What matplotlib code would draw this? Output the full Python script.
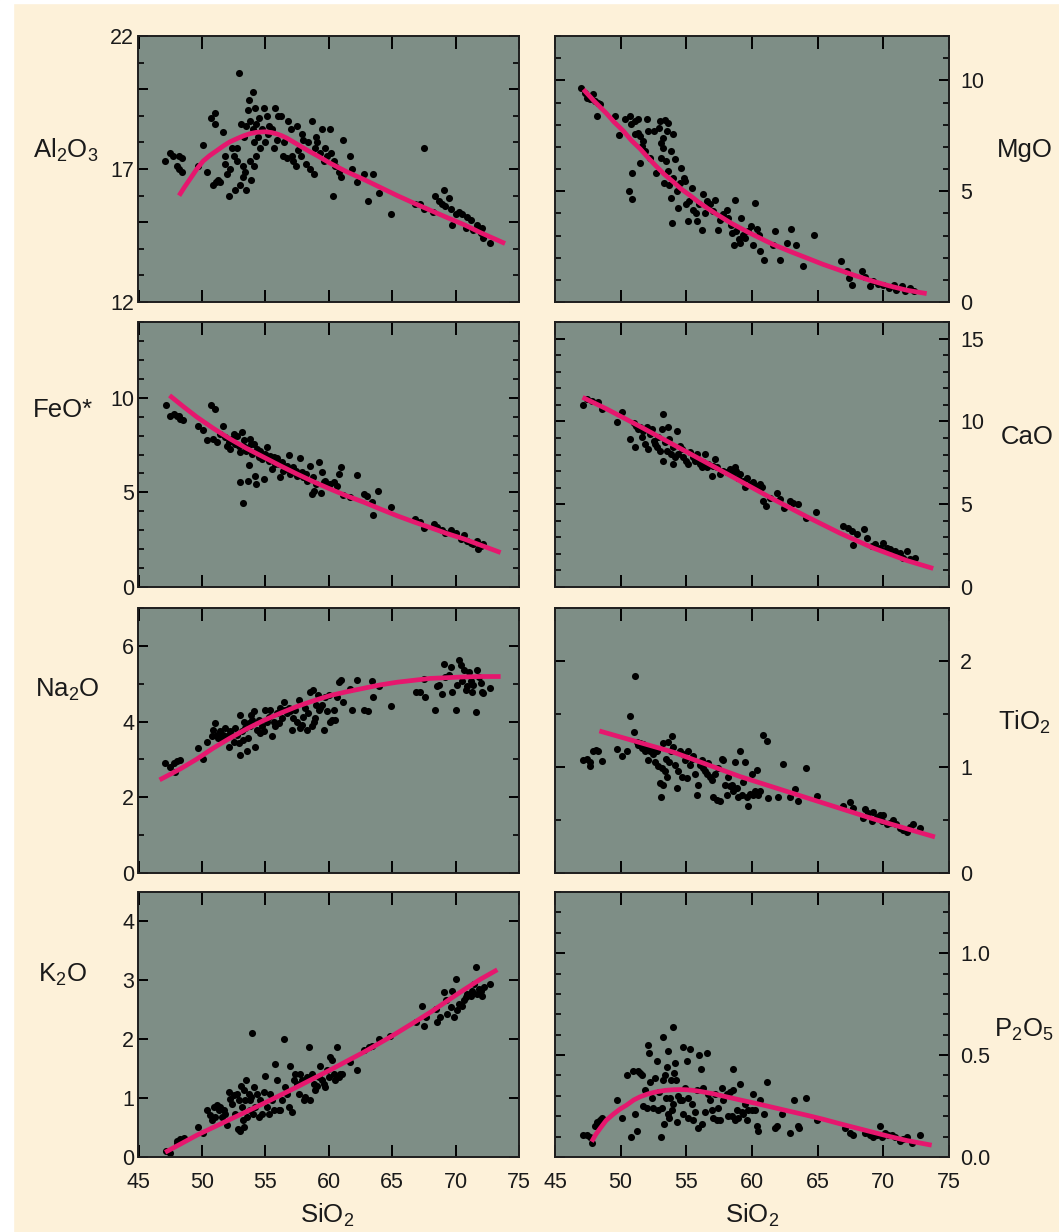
import matplotlib
matplotlib.use("Agg")
import matplotlib.pyplot as plt
from matplotlib.patches import Rectangle
from matplotlib.ticker import FixedLocator, FixedFormatter, MultipleLocator

plt.rcParams['font.family'] = ['Liberation Sans', 'DejaVu Sans']
plt.rcParams['mathtext.fontset'] = 'custom'
plt.rcParams['mathtext.rm'] = 'Liberation Sans'
plt.rcParams['mathtext.default'] = 'regular'

bg = "#fdf1d9"
face = "#7e8e86"
pink = "#e6176e"

# ---- Al2O3 ----
al_x = [47.1, 47.5, 47.7, 48.2, 48.4, 48.0, 48.2, 48.4, 49.7, 50.1, 50.4, 50.7, 51.0, 51.0, 50.9, 51.1, 51.3, 51.4,
        51.7, 51.8, 51.8, 52.0, 52.1, 52.2, 52.4, 52.5, 52.6, 52.8, 52.8, 52.9, 53.0, 53.1, 53.2, 53.2, 53.3, 53.4,
        53.5, 53.5, 53.6, 53.7, 53.8, 53.8, 53.9, 54.0, 54.0, 54.1, 54.1, 54.2, 54.3, 54.3, 54.4, 54.5, 54.6, 54.7,
        54.9, 55.0, 55.1, 55.2, 55.3, 55.5, 55.7, 55.8, 55.9, 56.0, 56.2, 56.4, 56.5, 56.7, 56.8, 57.0, 57.1, 57.2,
        57.4, 57.5, 57.6, 57.8, 57.9, 58.0, 58.2, 58.4, 58.5, 58.7, 58.8, 58.9, 59.0, 59.1, 59.3, 59.5, 59.6, 59.7,
        59.9, 60.1, 60.2, 60.3, 60.4, 60.5, 60.8, 61.0, 61.1, 61.7, 61.8, 62.2, 62.8, 63.1, 63.5, 64.0, 64.9, 66.8,
        67.2, 67.5, 67.5, 68.2, 68.4, 68.7, 68.9, 69.1, 69.2, 69.5, 69.6, 69.7, 70.0, 70.3, 70.5, 70.8, 70.9, 71.2,
        71.4, 71.7, 71.8, 72.0, 72.1, 72.2, 72.7]
al_y = [17.3, 17.6, 17.5, 17.5, 17.4, 17.1, 17.0, 16.9, 17.1, 17.9, 16.9, 18.9, 19.1, 18.7, 16.4, 16.5, 16.6, 16.5,
        18.4, 17.5, 17.2, 16.8, 16.0, 17.0, 17.8, 17.5, 16.2, 17.8, 17.3, 20.6, 16.4, 18.7, 17.1, 16.7, 18.2, 16.9,
        16.2, 18.6, 19.2, 19.6, 18.8, 17.3, 16.6, 18.5, 19.9, 18.0, 17.1, 19.3, 18.7, 17.5, 18.2, 18.9, 17.8, 18.5,
        19.3, 18.0, 19.0, 18.3, 18.6, 18.5, 17.8, 19.3, 18.1, 19.0, 19.0, 17.5, 18.0, 17.4, 18.8, 18.5, 17.5, 17.3,
        17.1, 18.6, 17.7, 17.5, 18.3, 18.1, 17.2, 18.0, 17.0, 18.8, 16.8, 17.8, 18.2, 18.0, 17.6, 18.5, 17.3, 17.8,
        17.5, 18.5, 17.6, 16.0, 17.3, 17.1, 16.9, 16.7, 18.1, 17.5, 17.0, 16.5, 16.8, 15.8, 16.8, 16.1, 15.3, 15.7,
        15.7, 17.8, 15.5, 15.4, 16.0, 15.8, 15.7, 16.2, 15.6, 15.9, 15.5, 14.9, 15.3, 15.4, 15.3, 14.8, 15.2, 15.1,
        14.7, 14.9, 14.8, 14.6, 14.8, 14.4, 14.2]
al_fit_x = [48.2, 48.6, 49.1, 49.6, 50.1, 50.6, 51.2, 51.7, 52.2, 52.8, 53.3, 53.8, 54.3, 55.0, 55.5, 55.9, 56.3,
            56.7, 57.2, 57.8, 58.4, 59.1, 60.1, 61.4, 62.8, 64.1, 65.4, 66.7, 68.0, 69.3, 70.7, 72.0, 73.9]
al_fit_y = [16.0, 16.3, 16.65, 17.0, 17.3, 17.5, 17.7, 17.87, 18.02, 18.15, 18.25, 18.33, 18.38, 18.4, 18.37, 18.32,
            18.25, 18.16, 18.02, 17.85, 17.68, 17.5, 17.22, 16.9, 16.6, 16.3, 16.0, 15.72, 15.45, 15.18, 14.9, 14.6,
            14.2]

# ---- MgO ----
mg_x = [47.0, 47.3, 47.4, 47.7, 47.9, 48.05, 48.3, 48.4, 48.2, 49.6, 49.9, 50.3, 50.7, 50.8, 51.1, 51.1, 51.3, 51.3,
        51.5, 51.6, 51.7, 51.85, 52.0, 52.1, 51.5, 50.9, 50.6, 50.9, 52.2, 52.5, 52.7, 52.9, 53.0, 53.05, 53.1, 53.2,
        53.25, 53.3, 53.4, 53.45, 53.5, 53.6, 53.6, 53.7, 53.8, 53.8, 53.9, 54.0, 54.0, 54.1, 54.3, 54.4, 54.5, 54.6,
        54.8, 54.9, 55.0, 55.1, 55.2, 55.4, 55.5, 55.7, 55.8, 56.0, 56.2, 56.3, 56.4, 56.6, 56.8, 57.05, 57.2, 57.4,
        57.6, 57.8, 58.1, 58.2, 58.4, 58.5, 58.6, 58.7, 58.8, 59.0, 59.1, 59.2, 59.3, 59.5, 59.7, 59.9, 60.1, 60.2,
        60.4, 60.5, 60.6, 60.9, 61.6, 61.75, 62.1, 62.7, 63.0, 63.35, 63.9, 64.7, 66.8, 67.2, 67.4, 67.6, 68.35, 68.6,
        69.0, 69.2, 69.6, 70.0, 70.4, 70.8, 71.0, 71.4, 71.65, 72.0, 72.3]
mg_y = [9.67, 9.44, 9.22, 9.14, 9.37, 9.07, 8.99, 8.92, 8.39, 8.39, 7.52, 8.24, 8.39, 8.01, 8.16, 7.56, 8.24, 7.64,
        7.48, 7.03, 7.26, 6.81, 8.24, 7.71, 6.28, 5.83, 5.03, 4.65, 6.51, 7.71, 5.83, 7.86, 8.16, 7.18, 6.51, 7.41,
        6.96, 5.38, 8.19, 6.36, 7.71, 8.09, 5.90, 5.30, 6.81, 4.70, 3.57, 7.56, 5.60, 6.43, 5.00, 4.25, 5.38, 6.05,
        5.60, 5.45, 4.40, 3.64, 4.55, 5.15, 4.17, 4.02, 3.64, 4.40, 3.27, 4.85, 4.02, 4.55, 4.40, 4.10, 4.62, 3.27,
        3.72, 3.95, 4.17, 3.80, 3.49, 3.12, 2.59, 4.62, 3.19, 2.82, 2.67, 3.80, 3.01, 2.89, 3.19, 3.42, 2.59, 4.47,
        3.30, 3.04, 2.29, 1.91, 2.59, 3.19, 1.91, 2.64, 3.30, 2.59, 1.64, 3.01, 1.84, 1.39, 1.08, 0.78, 1.42, 1.11,
        0.71, 0.93, 0.81, 0.78, 0.63, 0.78, 0.56, 0.71, 0.48, 0.63, 0.51]
mg_fit_x = [47.16, 48.0, 48.9, 49.5, 50.2, 50.8, 51.5, 52.1, 52.7, 53.3, 54.0, 54.6, 55.3, 55.9, 56.55, 57.2, 57.8,
            58.4, 59.1, 59.7, 60.35, 61.0, 61.6, 62.9, 64.2, 65.4, 66.7, 67.97, 69.2, 70.5, 71.8, 73.3]
mg_fit_y = [9.59, 9.05, 8.52, 8.12, 7.72, 7.3, 6.9, 6.5, 6.13, 5.77, 5.42, 5.1, 4.8, 4.52, 4.25, 4.0, 3.78, 3.56, 3.34,
            3.15, 2.96, 2.77, 2.6, 2.28, 1.98, 1.7, 1.43, 1.17, 0.94, 0.72, 0.53, 0.38]

# ---- FeO* ----
fe_x = [47.2, 47.5, 47.8, 48.0, 48.3, 48.5, 48.2, 49.66, 50.1, 50.4, 50.7, 51.05, 50.9, 51.2, 51.4, 51.66, 51.84,
        51.97, 52.1, 52.2, 52.37, 52.5, 52.6, 52.76, 52.9, 52.97, 53.0, 53.16, 53.23, 53.3, 53.42, 53.5, 53.6, 53.68,
        53.76, 53.87, 53.95, 54.08, 54.2, 54.29, 54.34, 54.47, 54.6, 54.7, 54.87, 55.0, 55.13, 55.26, 55.39, 55.5,
        55.66, 55.79, 55.9, 56.05, 56.18, 56.3, 56.4, 56.6, 56.7, 56.84, 56.97, 57.2, 57.4, 57.5, 57.7, 57.9, 58.0,
        58.2, 58.3, 58.55, 58.7, 58.76, 58.87, 59.0, 59.2, 59.4, 59.5, 59.6, 59.7, 59.9, 60.1, 60.4, 60.66, 60.8,
        60.97, 61.1, 61.7, 62.2, 62.8, 63.0, 63.4, 63.5, 63.9, 64.9, 66.8, 67.2, 67.5, 68.3, 68.5, 68.9, 69.2, 69.6,
        70.0, 70.4, 70.7, 70.9, 71.2, 71.4, 71.7, 72.0, 72.2, 71.8]
fe_y = [9.63, 9.06, 9.12, 9.01, 8.89, 8.80, 9.06, 8.53, 8.27, 7.77, 9.59, 9.38, 7.83, 7.65, 8.09, 8.53, 7.92, 7.47,
        7.65, 7.30, 7.83, 8.09, 7.56, 8.0, 7.47, 5.53, 7.12, 8.18, 4.42, 7.74, 7.39, 7.21, 5.62, 6.47, 7.83, 7.56,
        7.03, 7.56, 5.88, 5.44, 7.30, 6.86, 7.21, 6.77, 5.71, 7.03, 7.39, 6.68, 6.94, 6.24, 6.86, 6.50, 6.82, 6.50,
        5.80, 6.59, 6.15, 6.24, 6.41, 7.0, 5.97, 6.33, 6.11, 5.88, 6.80, 6.06, 5.80, 5.97, 5.62, 6.41, 4.91, 5.80,
        5.09, 5.44, 6.59, 4.95, 6.06, 5.53, 5.62, 5.44, 5.44, 5.53, 5.35, 5.97, 6.36, 4.88, 4.73, 5.92, 4.91, 4.82,
        4.47, 3.80, 5.09, 4.24, 3.59, 3.46, 3.14, 3.32, 3.18, 3.0, 2.83, 3.0, 2.83, 2.53, 2.76, 2.44, 2.35, 2.26,
        2.44, 2.17, 2.26, 2.0]
fe_fit_x = [47.45, 48.5, 49.6, 50.9, 52.2, 53.5, 54.87, 56.2, 57.5, 58.8, 60.1, 61.4, 62.8, 64.1, 65.4, 66.7, 68.0,
            69.3, 70.7, 72.1, 73.55]
fe_fit_y = [10.12, 9.55, 8.98, 8.38, 7.83, 7.33, 6.86, 6.4, 5.97, 5.56, 5.18, 4.82, 4.47, 4.11, 3.76, 3.44, 3.14,
            2.83, 2.53, 2.18, 1.82]

# ---- CaO ----
ca_x = [47.16, 47.4, 47.8, 48.3, 48.55, 49.7, 50.1, 50.7, 51.0, 51.1, 51.2, 51.35, 51.5, 51.6, 51.7, 51.85, 52.0,
        52.1, 52.2, 52.36, 52.5, 52.6, 52.74, 52.87, 53.0, 53.12, 53.2, 53.25, 53.38, 53.5, 53.63, 53.7, 53.8, 54.0,
        54.0, 54.14, 54.3, 54.39, 54.5, 54.65, 54.77, 55.0, 55.15, 55.28, 55.5, 55.66, 55.79, 56.04, 56.17, 56.3,
        56.42, 56.55, 56.67, 56.93, 57.05, 57.18, 57.3, 57.56, 57.8, 58.07, 58.3, 58.58, 58.7, 58.8, 58.96, 59.09,
        59.34, 59.47, 59.6, 59.85, 60.1, 60.36, 60.6, 60.74, 60.86, 61.1, 61.37, 61.93, 62.13, 62.4, 62.9, 63.15,
        63.53, 64.1, 64.9, 66.95, 67.3, 67.59, 67.7, 67.97, 68.5, 68.73, 69.1, 69.4, 69.75, 70.0, 70.25, 70.5, 70.89,
        71.27, 71.5, 71.78, 72.03, 72.41]
ca_y = [10.99, 11.35, 11.25, 11.15, 10.75, 9.98, 10.54, 8.93, 9.88, 8.43, 9.74, 9.54, 9.64, 9.03, 9.44, 8.63, 9.64,
        8.33, 9.23, 9.54, 8.83, 8.63, 8.43, 9.03, 8.23, 9.54, 7.62, 10.44, 8.73, 8.23, 9.64, 8.93, 8.02, 7.42, 8.43,
        7.82, 9.44, 8.02, 8.53, 8.33, 7.82, 7.62, 7.42, 8.13, 7.82, 7.62, 8.02, 7.42, 7.22, 7.52, 8.02, 7.22, 7.42,
        6.71, 7.32, 7.72, 7.22, 6.81, 7.02, 6.92, 7.12, 6.81, 7.22, 7.02, 6.61, 6.81, 6.41, 6.01, 6.61, 6.21, 6.31,
        6.11, 6.21, 6.01, 5.20, 4.90, 5.40, 5.65, 5.30, 4.80, 5.20, 5.10, 5.0, 4.15, 4.50, 3.69, 3.59, 3.39, 2.54,
        3.19, 3.49, 2.98, 2.48, 2.58, 2.38, 2.68, 2.38, 2.28, 2.18, 2.08, 1.77, 2.18, 1.67, 1.77]
ca_fit_x = [47.1, 48.93, 51.5, 54.0, 56.55, 59.09, 61.62, 64.16, 66.7, 69.24, 71.78, 73.8]
ca_fit_y = [11.45, 10.75, 9.68, 8.6, 7.5, 6.4, 5.3, 4.25, 3.25, 2.35, 1.6, 1.12]

# ---- Na2O ----
na_x = [47.1, 47.5, 47.76, 48.0, 48.3, 47.9, 49.66, 50.1, 50.4, 50.8, 50.9, 51.05, 51.2, 51.3, 51.4, 51.6, 51.7,
        51.84, 51.97, 52.1, 52.2, 52.37, 52.5, 52.6, 52.76, 52.9, 52.97, 53.0, 53.16, 53.23, 53.3, 53.42, 53.55, 53.6,
        53.68, 53.8, 53.87, 53.95, 54.08, 54.2, 54.34, 54.47, 54.6, 54.7, 54.87, 55.0, 55.13, 55.26, 55.39, 55.5,
        55.66, 55.79, 55.9, 56.05, 56.18, 56.3, 56.45, 56.58, 56.7, 56.84, 56.97, 57.1, 57.2, 57.37, 57.5, 57.63,
        57.76, 57.89, 58.0, 58.16, 58.29, 58.4, 58.55, 58.68, 58.76, 58.87, 58.95, 59.0, 59.13, 59.2, 59.34, 59.47,
        59.6, 59.7, 59.87, 60.0, 60.13, 60.26, 60.39, 60.5, 60.66, 60.8, 60.97, 61.1, 61.7, 61.84, 62.2, 62.76, 63.1,
        63.4, 63.5, 63.97, 64.9, 66.84, 67.2, 67.5, 67.6, 68.4, 68.5, 68.7, 68.9, 69.1, 69.2, 69.47, 69.6, 69.7,
        70.0, 70.13, 70.26, 70.39, 70.5, 70.66, 70.8, 70.92, 71.05, 71.18, 71.3, 71.4, 71.58, 71.7, 71.84, 71.97,
        72.1, 72.2, 72.7]
na_y = [2.90, 2.81, 2.90, 2.96, 2.99, 2.68, 3.30, 3.02, 3.47, 3.61, 3.78, 3.96, 3.65, 3.56, 3.74, 3.52, 3.65, 3.83,
        3.61, 3.34, 3.74, 3.65, 3.47, 3.83, 3.65, 3.43, 3.12, 4.18, 3.74, 3.52, 4.0, 3.83, 3.21, 3.56, 3.96, 3.87,
        4.18, 4.05, 4.27, 3.34, 3.78, 4.05, 3.69, 3.87, 3.74, 4.31, 4.0, 4.13, 4.31, 3.61, 4.0, 3.87, 4.22, 3.96,
        4.35, 4.09, 4.53, 4.31, 4.22, 4.35, 4.27, 3.78, 4.09, 4.31, 4.0, 4.57, 3.83, 3.91, 4.13, 4.35, 3.78, 4.22,
        4.79, 3.87, 4.84, 4.0, 4.09, 4.44, 4.71, 4.31, 4.35, 4.44, 3.78, 4.66, 4.27, 4.71, 4.0, 4.05, 4.31, 4.05,
        4.66, 5.04, 5.10, 4.53, 4.85, 4.31, 5.10, 4.31, 4.27, 5.06, 4.66, 4.95, 4.42, 4.79, 4.79, 5.12, 4.66, 4.31,
        4.93, 4.97, 4.72, 5.51, 5.19, 5.23, 5.45, 4.79, 4.31, 4.97, 5.63, 5.50, 5.06, 5.37, 4.84, 4.93, 5.32, 5.06,
        4.79, 4.97, 4.25, 5.37, 5.19, 5.01, 4.79, 4.75, 4.88]
na_fit_x = [46.66, 48.3, 49.6, 50.9, 52.2, 53.55, 54.87, 56.18, 57.5, 58.8, 60.13, 61.45, 62.76, 64.08, 65.4, 66.7,
            68.0, 69.34, 70.66, 71.97, 73.55]
na_fit_y = [2.46, 2.75, 3.01, 3.30, 3.56, 3.81, 4.03, 4.22, 4.40, 4.55, 4.69, 4.79, 4.88, 4.97, 5.04, 5.09, 5.14,
            5.16, 5.18, 5.19, 5.19]

# ---- TiO2 ----
ti_x = [47.16, 47.41, 47.67, 47.92, 48.12, 48.3, 48.55, 47.67, 49.75, 50.08, 50.5, 50.71, 51.0, 51.09, 51.22, 51.35,
        51.47, 51.6, 51.73, 51.85, 51.98, 52.1, 52.23, 52.36, 52.49, 52.61, 52.74, 52.87, 52.99, 53.05, 53.12, 53.2,
        53.25, 53.38, 53.45, 53.5, 53.63, 53.7, 53.81, 53.88, 54.01, 54.14, 54.26, 54.39, 54.52, 54.64, 54.77, 54.9,
        55.03, 55.15, 55.28, 55.41, 55.53, 55.66, 55.79, 55.91, 56.04, 56.17, 56.29, 56.42, 56.55, 56.68, 56.8,
        56.93, 57.06, 57.18, 57.31, 57.44, 57.56, 57.69, 57.82, 57.94, 58.07, 58.2, 58.33, 58.45, 58.58, 58.71,
        58.83, 58.96, 59.09, 59.21, 59.34, 59.47, 59.59, 59.72, 59.85, 59.97, 60.1, 60.23, 60.36, 60.48, 60.61,
        60.86, 61.12, 61.24, 62.0, 62.33, 62.89, 63.27, 63.53, 64.11, 64.92, 66.95, 67.46, 67.72, 68.48, 68.6,
        68.86, 69.11, 69.24, 69.49, 69.75, 69.87, 70.0, 70.25, 70.51, 70.76, 71.0, 71.27, 71.52, 71.78, 72.03,
        72.28, 72.79]
ti_y = [1.07, 1.08, 1.01, 1.15, 1.16, 1.15, 1.06, 1.05, 1.17, 1.10, 1.15, 1.48, 1.33, 1.86, 1.24, 1.21, 1.23, 1.18,
        1.22, 1.15, 1.19, 1.07, 1.15, 1.18, 1.12, 1.05, 1.15, 1.01, 0.85, 0.72, 0.99, 0.83, 1.23, 0.96, 1.08, 0.91,
        1.24, 1.05, 1.15, 1.29, 1.19, 1.02, 0.80, 0.96, 1.15, 0.91, 1.12, 1.07, 0.90, 1.15, 1.02, 1.08, 1.10, 0.93,
        0.74, 0.83, 1.02, 1.07, 0.99, 0.96, 0.93, 1.04, 0.91, 0.88, 0.72, 0.93, 0.69, 0.99, 0.68, 1.08, 1.07, 0.83,
        0.74, 0.91, 0.82, 0.83, 0.77, 1.05, 0.80, 0.72, 1.15, 0.74, 0.86, 1.05, 0.72, 0.63, 0.75, 0.93, 0.74, 0.77,
        0.97, 0.74, 0.77, 1.30, 1.25, 0.71, 0.72, 1.03, 0.72, 0.79, 0.68, 0.99, 0.73, 0.63, 0.67, 0.61, 0.52, 0.60,
        0.57, 0.49, 0.58, 0.53, 0.55, 0.49, 0.55, 0.46, 0.47, 0.50, 0.46, 0.42, 0.41, 0.39, 0.43, 0.46, 0.42]
ti_fit_x = [48.38, 54.01, 59.09, 64.16, 69.24, 73.93]
ti_fit_y = [1.34, 1.14, 0.91, 0.71, 0.51, 0.34]

# ---- K2O ----
k_x = [47.18, 47.5, 48.0, 48.29, 48.55, 48.0, 49.66, 50.08, 50.39, 50.66, 50.79, 50.92, 51.05, 51.18, 51.31, 51.45,
       51.58, 51.71, 51.84, 51.97, 52.1, 52.23, 52.37, 52.5, 52.63, 52.76, 52.81, 52.89, 53.02, 53.08, 53.16, 53.23,
       53.29, 53.34, 53.42, 53.5, 53.55, 53.68, 53.76, 53.81, 53.87, 53.95, 54.02, 54.08, 54.21, 54.34, 54.47, 54.6,
       54.73, 54.87, 55.0, 55.13, 55.26, 55.39, 55.52, 55.66, 55.79, 55.92, 56.05, 56.18, 56.31, 56.45, 56.58, 56.71,
       56.84, 56.97, 57.1, 57.23, 57.37, 57.5, 57.63, 57.76, 57.89, 58.02, 58.16, 58.29, 58.42, 58.55, 58.68, 58.81,
       58.95, 59.08, 59.21, 59.34, 59.47, 59.6, 59.73, 59.87, 60.0, 60.13, 60.26, 60.39, 60.52, 60.66, 60.79, 60.92,
       61.05, 61.71, 62.23, 62.76, 63.16, 63.42, 63.95, 64.81, 66.84, 67.37, 67.5, 67.63, 68.42, 68.55, 68.81, 69.08,
       69.21, 69.34, 69.6, 69.73, 69.87, 70.0, 70.13, 70.26, 70.52, 70.66, 70.79, 70.92, 71.18, 71.31, 71.45, 71.58,
       71.71, 71.84, 71.97, 72.1, 72.23, 72.71]
k_y = [0.11, 0.06, 0.28, 0.31, 0.33, 0.23, 0.51, 0.40, 0.79, 0.71, 0.62, 0.85, 0.68, 0.88, 0.79, 0.85, 0.68, 0.79,
       0.73, 0.54, 1.10, 0.99, 0.90, 1.05, 0.73, 1.07, 0.48, 0.96, 0.45, 1.21, 0.85, 0.62, 1.13, 0.51, 0.96, 1.30,
       0.68, 1.07, 0.79, 0.96, 1.02, 2.10, 0.73, 1.19, 0.85, 1.07, 0.68, 0.96, 0.73, 1.10, 1.38, 0.85, 0.73, 1.07,
       0.96, 0.79, 1.58, 1.30, 0.79, 0.79, 0.96, 2.01, 1.19, 1.07, 0.85, 1.55, 0.76, 1.30, 1.41, 1.24, 1.07, 1.41,
       1.30, 0.96, 1.02, 1.36, 1.86, 0.96, 1.41, 1.24, 1.13, 1.21, 1.36, 1.55, 1.30, 1.24, 1.19, 1.47, 1.36, 1.69,
       1.64, 1.41, 1.30, 1.86, 1.36, 1.41, 1.41, 1.61, 1.47, 1.81, 1.86, 1.89, 2.01, 2.06, 2.29, 2.57, 2.23, 2.37,
       2.51, 2.29, 2.37, 2.80, 2.66, 2.43, 2.54, 2.82, 2.37, 3.02, 2.49, 2.60, 2.57, 2.66, 2.71, 2.77, 2.74, 2.82,
       2.94, 3.23, 2.77, 2.86, 2.82, 2.74, 2.88, 2.93]
k_fit_x = [47.1, 49.6, 52.23, 54.87, 57.5, 60.13, 62.76, 64.87, 66.84, 68.1, 69.34, 70.66, 71.97, 73.29]
k_fit_y = [0.08, 0.37, 0.64, 0.91, 1.19, 1.48, 1.78, 2.04, 2.3, 2.47, 2.65, 2.84, 3.02, 3.18]

# ---- P2O5 ----
p_x = [47.16, 47.41, 47.67, 47.79, 48.05, 48.17, 48.43, 48.55, 48.3, 49.75, 50.08, 50.51, 50.76, 50.96, 51.09, 51.22,
       51.35, 51.47, 51.6, 51.73, 51.85, 51.98, 52.11, 52.18, 52.23, 52.36, 52.49, 52.61, 52.74, 52.87, 52.94, 53.05,
       53.12, 53.2, 53.25, 53.3, 53.38, 53.45, 53.5, 53.58, 53.63, 53.71, 53.76, 53.83, 53.88, 53.96, 54.01, 54.09,
       54.14, 54.21, 54.26, 54.39, 54.52, 54.64, 54.72, 54.77, 54.9, 55.03, 55.1, 55.15, 55.28, 55.41, 55.53, 55.66,
       55.79, 55.91, 55.99, 56.09, 56.17, 56.29, 56.42, 56.55, 56.68, 56.8, 56.93, 57.06, 57.18, 57.31, 57.44, 57.56,
       57.69, 57.82, 58.07, 58.2, 58.33, 58.45, 58.53, 58.58, 58.71, 58.83, 58.96, 59.09, 59.21, 59.34, 59.47, 59.59,
       59.72, 59.97, 60.1, 60.23, 60.36, 60.48, 60.61, 60.91, 61.12, 61.75, 61.88, 62.26, 62.89, 63.2, 63.53, 63.6,
       64.09, 64.92, 67.08, 67.46, 67.72, 68.6, 68.99, 69.24, 69.49, 69.75, 69.87, 70.13, 70.38, 70.63, 70.89, 71.27,
       71.52, 71.78, 72.16, 72.79]
p_y = [0.11, 0.11, 0.10, 0.07, 0.15, 0.17, 0.18, 0.19, 0.16, 0.28, 0.19, 0.40, 0.10, 0.42, 0.21, 0.13, 0.42, 0.41,
       0.40, 0.25, 0.33, 0.24, 0.55, 0.51, 0.37, 0.29, 0.24, 0.39, 0.47, 0.23, 0.32, 0.10, 0.24, 0.59, 0.38, 0.16,
       0.40, 0.29, 0.44, 0.21, 0.52, 0.19, 0.29, 0.38, 0.23, 0.64, 0.26, 0.41, 0.46, 0.38, 0.17, 0.30, 0.28, 0.28,
       0.54, 0.21, 0.34, 0.47, 0.19, 0.29, 0.53, 0.26, 0.18, 0.22, 0.33, 0.14, 0.50, 0.43, 0.16, 0.34, 0.22, 0.51,
       0.31, 0.28, 0.23, 0.19, 0.31, 0.18, 0.24, 0.18, 0.34, 0.28, 0.31, 0.20, 0.32, 0.20, 0.43, 0.33, 0.18, 0.23,
       0.19, 0.36, 0.22, 0.21, 0.26, 0.18, 0.23, 0.23, 0.31, 0.23, 0.15, 0.13, 0.28, 0.21, 0.37, 0.14, 0.15, 0.21,
       0.12, 0.28, 0.15, 0.14, 0.29, 0.18, 0.14, 0.12, 0.11, 0.12, 0.11, 0.10, 0.11, 0.15, 0.10, 0.12, 0.11, 0.11,
       0.10, 0.08, 0.09, 0.10, 0.07, 0.11]
p_fit_x = [47.79, 48.1, 48.43, 48.9, 49.44, 49.95, 50.46, 51.0, 51.47, 52.1, 52.74, 53.4, 54.01, 54.5, 55.03, 55.5,
           56.04, 57.06, 58.07, 59.09, 60.36, 61.62, 62.89, 64.16, 65.43, 66.7, 67.97, 69.24, 70.51, 71.78, 73.68]
p_fit_y = [0.075, 0.11, 0.14, 0.18, 0.21, 0.235, 0.255, 0.28, 0.295, 0.31, 0.32, 0.327, 0.33, 0.331, 0.33, 0.327,
           0.322, 0.31, 0.295, 0.28, 0.262, 0.243, 0.224, 0.205, 0.185, 0.163, 0.142, 0.121, 0.1, 0.081, 0.058]

x_ticks = [45, 50, 55, 60, 65, 70, 75]

W, H = 1059, 1232
fig = plt.figure(figsize=(W / 100, H / 100), dpi=100, facecolor=bg)
# thin white strip at the left and top edge of the scan
fig.patches.append(Rectangle((0, 0), 13 / W, 1, transform=fig.transFigure, color="white", zorder=0))
fig.patches.append(Rectangle((0, 1 - 3 / H), 1, 3 / H, transform=fig.transFigure, color="white", zorder=0))

col_left = [(138.5, 380.5), (555, 394)]
row_px = [(36, 302), (322, 587), (608, 873), (892, 1157)]


def make_ax(col, row):
    x0, w = col_left[col]
    top, bot = row_px[row]
    return fig.add_axes([x0 / W, 1 - bot / H, w / W, (bot - top) / H])


def panel(ax, x, y, fx, fy, ylim, majors, labels, minor, right, bottom):
    ax.set_facecolor(face)
    ax.scatter(x, y, s=26, c="black", linewidths=0, zorder=2)
    ax.plot(fx, fy, color=pink, lw=3.4, solid_capstyle="butt", solid_joinstyle="round", zorder=3)
    ax.set_xlim(45, 75)
    ax.set_ylim(*ylim)
    for sp in ax.spines.values():
        sp.set_linewidth(1.4)
        sp.set_color("#1e1e1e")
    ax.xaxis.set_major_locator(FixedLocator(x_ticks))
    ax.yaxis.set_major_locator(FixedLocator(majors))
    ax.yaxis.set_major_formatter(FixedFormatter(labels))
    if minor:
        ax.yaxis.set_minor_locator(MultipleLocator(minor))
    ax.tick_params(axis="x", which="major", direction="in", length=9, width=1.4, top=True, bottom=True,
                   labelbottom=bottom, labelsize=15.5, pad=11, labelcolor="#1a1a1a")
    ax.tick_params(axis="y", which="major", direction="in", length=7, width=1.4, left=True, right=True,
                   labelleft=not right, labelright=right, labelsize=15.5, pad=3 if not right else 8,
                   labelcolor="#1a1a1a")
    ax.tick_params(axis="y", which="minor", direction="in", length=4, width=1.2, left=True, right=True)


panels = [
    (0, 0, al_x, al_y, al_fit_x, al_fit_y, (12, 22), [12, 15, 17, 20, 22], ["12", "", "17", "", "22"], 1),
    (1, 0, mg_x, mg_y, mg_fit_x, mg_fit_y, (0, 12), [0, 5, 10], ["0", "5", "10"], 1),
    (0, 1, fe_x, fe_y, fe_fit_x, fe_fit_y, (0, 14), [0, 5, 10], ["0", "5", "10"], 1),
    (1, 1, ca_x, ca_y, ca_fit_x, ca_fit_y, (0, 16), [0, 5, 10, 15], ["0", "5", "10", "15"], 1),
    (0, 2, na_x, na_y, na_fit_x, na_fit_y, (0, 7), [0, 2, 4, 6], ["0", "2", "4", "6"], 1),
    (1, 2, ti_x, ti_y, ti_fit_x, ti_fit_y, (0, 2.5), [0, 1, 2], ["0", "1", "2"], 0.5),
    (0, 3, k_x, k_y, k_fit_x, k_fit_y, (0, 4.5), [0, 1, 2, 3, 4], ["0", "1", "2", "3", "4"], None),
    (1, 3, p_x, p_y, p_fit_x, p_fit_y, (0, 1.3), [0, 0.5, 1.0], ["0.0", "0.5", "1.0"], 0.1),
]

for col, row, x, y, fx, fy, ylim, majors, labels, minor in panels:
    ax = make_ax(col, row)
    panel(ax, x, y, fx, fy, ylim, majors, labels, minor, right=(col == 1), bottom=(row == 3))

names = [
    ("Al$_2$O$_3$", 66, 150), ("FeO*", 63, 410), ("Na$_2$O", 67, 690), ("K$_2$O", 62, 975),
    ("MgO", 1025, 150), ("CaO", 1027, 437), ("TiO$_2$", 1024, 722), ("P$_2$O$_5$", 1024, 1030),
    ("SiO$_2$", 327, 1215), ("SiO$_2$", 752, 1215),
]
for txt, px, py in names:
    fig.text(px / W, 1 - py / H, txt, fontsize=18.5, ha="center", va="center", color="#1a1a1a")

fig.savefig("out.png", dpi=100, facecolor=bg)
